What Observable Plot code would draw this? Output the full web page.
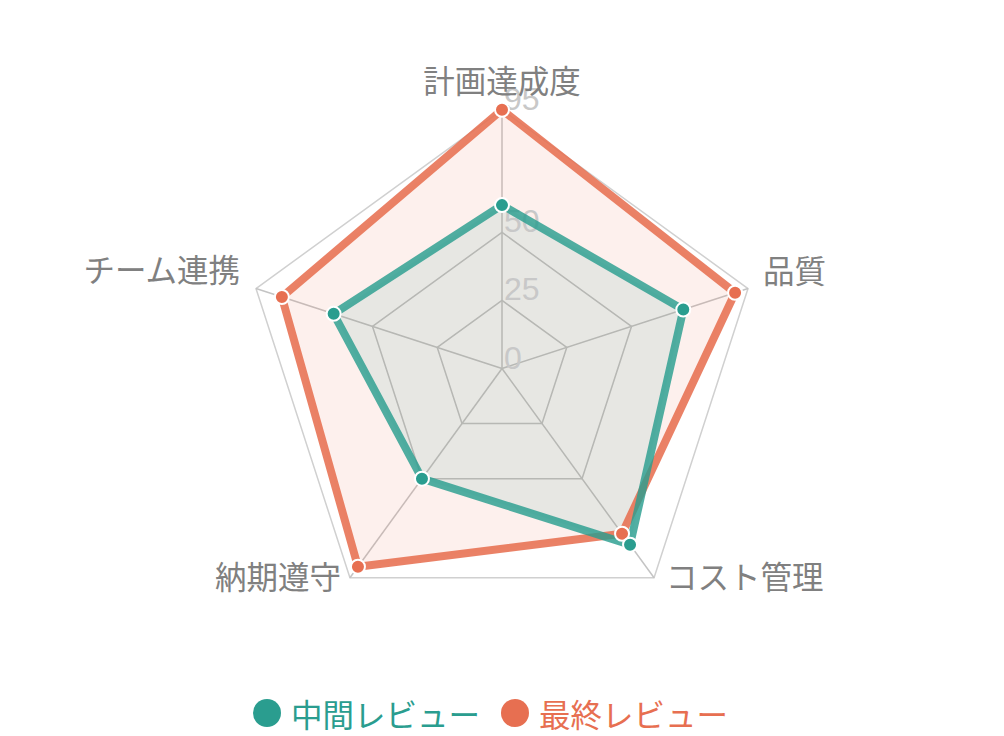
<!DOCTYPE html>
<html>
<head>
<meta charset="utf-8">
<script src="https://cdn.jsdelivr.net/npm/d3@7"></script>
<script src="https://cdn.jsdelivr.net/npm/@observablehq/plot@0.6"></script>
<style>
  html, body { margin: 0; padding: 0; background: #fff; }
  body { width: 1004px; height: 736px; position: relative; overflow: hidden;
         font-family: "Liberation Sans", "Noto Sans CJK JP", sans-serif; }
  #legend { position: absolute; left: 253px; top: 692px; display: flex; align-items: center;
            font-family: "Noto Sans CJK JP", sans-serif; font-size: 31.5px; line-height: 42px; }
  .item { display: flex; align-items: center; margin-right: 21px; }
  .sw { width: 28px; height: 28px; border-radius: 50%; margin-right: 10px; }
</style>
</head>
<body>
<div id="chart"></div>
<div id="legend"></div>
<script>
const axes = ["計画達成度", "品質", "コスト管理", "納期遵守", "チーム連携"];
const midValues = [60, 70, 80, 50, 65];
const finalValues = [95, 90, 75, 90, 85];
const seriesNames = ["中間レビュー", "最終レビュー"];
const seriesColors = ["#2a9d8f", "#e76f51"];
const ringTicks = [0, 25, 50, 95];
const maxValue = 95;

const W = 1004, H = 680, cx = 501.5, cy = 368, k = 2.723;
const ang = i => (i * 2 * Math.PI) / axes.length;
const px = (i, v) => v * Math.sin(ang(i));
const py = (i, v) => v * Math.cos(ang(i));

const series = [midValues, finalValues].map((vals, s) =>
  vals.map((v, i) => ({series: seriesNames[s], axis: axes[i], i, v, x: px(i, v), y: py(i, v)})));
const rings = ringTicks.filter(t => t > 0).flatMap(t =>
  axes.map((a, i) => ({t, x: px(i, t), y: py(i, t)})));
const spokes = axes.map((a, i) => ({axis: a, i, x: px(i, maxValue), y: py(i, maxValue)}));
const tickLabels = ringTicks.map(t => ({t, x: 0, y: t}));

const labelMark = (idx, opts) => Plot.text(spokes.filter(d => idx.includes(d.i)), {
  x: "x", y: "y", text: "axis", fill: "#808080", fontSize: 31.5,
  fontFamily: "Noto Sans CJK JP", ...opts
});

const chart = Plot.plot({
  width: W, height: H,
  marginLeft: 0, marginRight: 0, marginTop: 0, marginBottom: 0,
  x: {domain: [-cx / k, (W - cx) / k], axis: null},
  y: {domain: [-(H - cy) / k, cy / k], axis: null},
  style: {background: "transparent"},
  marks: [
    Plot.line(rings, {x: "x", y: "y", z: "t", curve: "linear-closed",
      stroke: d => d.t === maxValue ? "#d0d0d0" : "#c4c4c4", strokeWidth: 1.5}),
    Plot.link(spokes, {x1: 0, y1: 0, x2: "x", y2: "y", stroke: "#c4c4c4", strokeWidth: 1.5}),
    Plot.line(series[1], {x: "x", y: "y", curve: "linear-closed", fill: seriesColors[1], fillOpacity: 0.1, stroke: "none"}),
    Plot.line(series[0], {x: "x", y: "y", curve: "linear-closed", fill: seriesColors[0], fillOpacity: 0.1, stroke: "none"}),
    Plot.text(tickLabels, {x: "x", y: "y", text: d => String(d.t), textAnchor: "start", lineAnchor: "bottom",
      dx: 2, fill: "#c8c8c8", fontSize: 32, fontFamily: "Liberation Sans"}),
    Plot.line(series[1], {x: "x", y: "y", curve: "linear-closed", stroke: seriesColors[1], strokeWidth: 8,
      strokeOpacity: 0.88, strokeLinejoin: "miter"}),
    Plot.line(series[0], {x: "x", y: "y", curve: "linear-closed", stroke: seriesColors[0], strokeWidth: 8,
      strokeOpacity: 0.82, strokeLinejoin: "miter"}),
    Plot.dot(series[1], {x: "x", y: "y", r: 7, fill: seriesColors[1], stroke: "#fff", strokeWidth: 2}),
    Plot.dot(series[0], {x: "x", y: "y", r: 7, fill: seriesColors[0], stroke: "#fff", strokeWidth: 2}),
    labelMark([0], {textAnchor: "middle", lineAnchor: "bottom", dy: -17}),
    labelMark([1], {textAnchor: "start", lineAnchor: "bottom", dx: 15, dy: -6}),
    labelMark([2], {textAnchor: "start", lineAnchor: "middle", dx: 12, dy: 1}),
    labelMark([3], {textAnchor: "end", lineAnchor: "middle", dx: -9, dy: 1}),
    labelMark([4], {textAnchor: "end", lineAnchor: "bottom", dx: -16, dy: -7})
  ]
});
document.getElementById("chart").appendChild(chart);

const legend = document.getElementById("legend");
seriesNames.forEach((name, s) => {
  const item = document.createElement("div");
  item.className = "item";
  const sw = document.createElement("div");
  sw.className = "sw";
  sw.style.background = seriesColors[s];
  const tx = document.createElement("span");
  tx.textContent = name;
  tx.style.color = seriesColors[s];
  item.appendChild(sw); item.appendChild(tx);
  legend.appendChild(item);
});
</script>
</body>
</html>
